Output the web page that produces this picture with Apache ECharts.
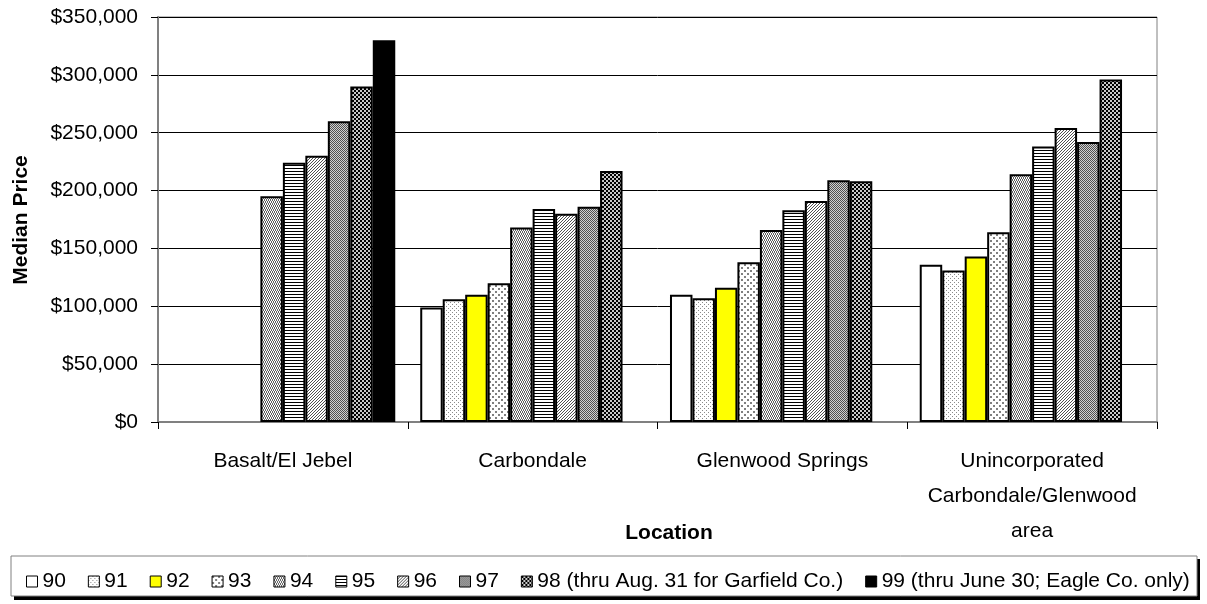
<!DOCTYPE html>
<html>
<head>
<meta charset="utf-8">
<script src="https://cdn.jsdelivr.net/npm/echarts@6/dist/echarts.min.js"></script>
<style>
html,body{margin:0;padding:0;background:#fff;}
#chart{width:1207px;height:604px;}
</style>
</head>
<body>
<div id="chart"></div>
<script>
// ---- data ----
const categories = ['Basalt/El Jebel', 'Carbondale', 'Glenwood Springs', 'Unincorporated\nCarbondale/Glenwood\narea'];
const seriesNames = ['90', '91', '92', '93', '94', '95', '96', '97', '98 (thru Aug. 31 for Garfield Co.)', '99 (thru June 30; Eagle Co. only)'];
const y90 = [null, 99000, 110000, 136000];
const y91 = [null, 106000, 107000, 131000];
const y92 = [null, 110000, 116000, 143000];
const y93 = [null, 120000, 138000, 164000];
const y94 = [195000, 168000, 166000, 214000];
const y95 = [224000, 184000, 183000, 238000];
const y96 = [230000, 180000, 191000, 254000];
const y97 = [260000, 186000, 209000, 242000];
const y98 = [290000, 217000, 208000, 296000];
const y99 = [330000, null, null, null];
const seriesValues = [y90, y91, y92, y93, y94, y95, y96, y97, y98, y99];
const yTicks = [0, 50000, 100000, 150000, 200000, 250000, 300000, 350000];

// ---- pattern fills ----
function pattern(w, h, bg, fg, pts) {
  const c = document.createElement('canvas');
  c.width = w; c.height = h;
  const g = c.getContext('2d');
  g.fillStyle = bg; g.fillRect(0, 0, w, h);
  g.fillStyle = fg;
  pts.forEach(p => g.fillRect(p[0], p[1], p[2] || 1, p[3] || 1));
  return { image: c, repeat: 'repeat' };
}
const fills = [
  '#ffffff',
  pattern(4, 4, '#ffffff', '#8a8a8a', [[0,0],[2,2]]),
  '#ffff00',
  pattern(6, 6, '#ffffff', '#808080', [[0,0,2,2],[3,3,2,2]]),
  pattern(4, 4, '#ffffff', '#606060', [[0,0],[1,1],[2,0],[3,1],[1,2],[2,3],[3,2],[0,3]]),
  pattern(1, 3, '#ffffff', '#000000', [[0,0]]),
  pattern(3, 3, '#ffffff', '#505050', [[0,2],[1,1],[2,0]]),
  pattern(2, 2, '#d0d0d0', '#505050', [[0,0],[1,1]]),
  pattern(4, 4, '#c8c8c8', '#000000', [[0,0,2,2],[2,2,2,2]]),
  '#000000'
];

const FONT = '"Liberation Sans", Arial, sans-serif';
const chart = echarts.init(document.getElementById('chart'));
const series = seriesNames.map((n, i) => ({
  name: n,
  type: 'bar',
  data: seriesValues[i],
  barGap: '0%',
  barCategoryGap: '10%',
  itemStyle: { color: fills[i], borderColor: '#000', borderWidth: 2 },
  emphasis: { disabled: true },
  animation: false
}));

chart.setOption({
  animation: false,
  textStyle: { fontFamily: FONT },
  grid: { left: 158, right: 50, top: 17, bottom: 182, show: true, borderColor: '#808080', borderWidth: 1 },
  xAxis: {
    type: 'category',
    data: categories,
    axisLine: { lineStyle: { color: '#808080', width: 2 } },
    axisTick: { show: true, length: 7, lineStyle: { color: '#000' } },
    axisLabel: { color: '#000', fontSize: 21, fontFamily: FONT, lineHeight: 35, margin: 22, interval: 0 }
  },
  yAxis: {
    type: 'value',
    min: 0, max: 350000, interval: 50000,
    axisLine: { show: true, lineStyle: { color: '#808080', width: 2 } },
    axisTick: { show: true, length: 7, lineStyle: { color: '#000' } },
    splitLine: { lineStyle: { color: '#000', width: 1 } },
    axisLabel: {
      color: '#000', fontSize: 21, fontFamily: FONT, margin: 20,
      formatter: v => yTicks.indexOf(v) >= 0 ? '$' + v.toLocaleString('en-US') : ''
    }
  },
  legend: {
    data: seriesNames,
    left: 21, top: 566,
    itemWidth: 11, itemHeight: 11, itemGap: 22,
    icon: 'rect',
    z: 10,
    itemStyle: { borderColor: '#000', borderWidth: 1 },
    textStyle: { color: '#000', fontSize: 21, fontFamily: FONT },
    selectedMode: false
  },
  graphic: [
    { type: 'rect', z: 1, shape: { x: 14, y: 559, width: 1186, height: 41 }, style: { fill: '#000' } },
    { type: 'rect', z: 2, shape: { x: 11, y: 556, width: 1186, height: 40 }, style: { fill: '#fff', stroke: '#808080', lineWidth: 1 } },
    { type: 'text', z: 5, x: 669, y: 533, style: { text: 'Location', font: 'bold 21px ' + FONT, fill: '#000', align: 'center', verticalAlign: 'middle' } },
    { type: 'text', z: 5, x: 21, y: 220, rotation: Math.PI / 2, style: { text: 'Median Price', font: 'bold 21px ' + FONT, fill: '#000', align: 'center', verticalAlign: 'middle' } }
  ],
  series: series
});
</script>
</body>
</html>
